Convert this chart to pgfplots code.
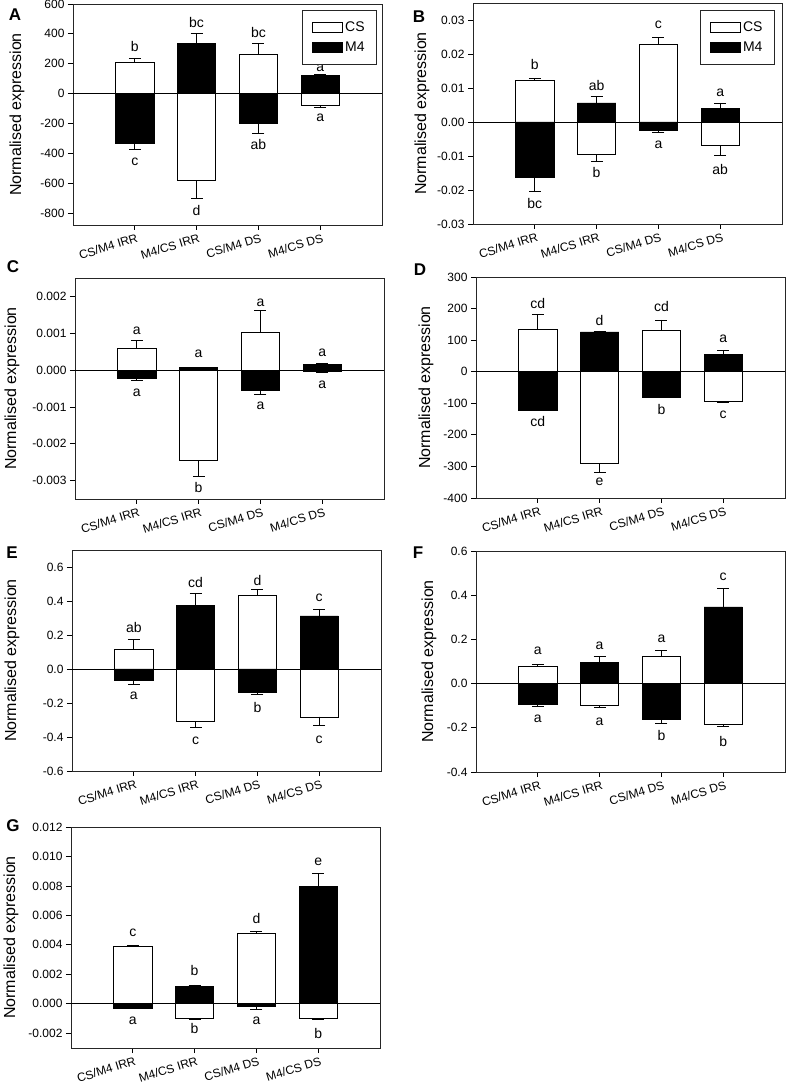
\documentclass[border=0pt]{standalone}
\usepackage{fontspec}
\setmainfont{Liberation Sans}
\usepackage{pgfplots}
\pgfplotsset{compat=1.18}
\tikzset{lt/.style={font=\fontsize{14}{16}\selectfont, inner sep=0pt}}
\pgfplotsset{
  panel/.style={
    width=309pt, height=221pt, scale only axis, anchor=south west,
    xmin=0, xmax=5, xtick={1,2,3,4},
    xticklabels={CS/M4 IRR, M4/CS IRR, CS/M4 DS, M4/CS DS},
    xticklabel style={yshift=-2pt, xshift=2pt, rotate=17, anchor=north east, font=\fontsize{12}{14}\selectfont, inner sep=1pt},
    yticklabel style={font=\fontsize{12}{14}\selectfont},
    /pgf/number format/assume math mode=true,
    /pgf/number format/fixed, /pgf/number format/fixed zerofill,
    scaled y ticks=false,
    tick align=outside, xtick pos=left, ytick pos=left,
    major tick length=5pt,
    tick style={black, line width=0.8pt},
    axis line style={black!85, line width=0.8pt},
    ylabel={Normalised expression},
    every axis y label/.append style={font=\fontsize{16}{18}\selectfont, anchor=center},
    legend image code/.code={\draw[#1, line width=0.8pt] (0pt,-5pt) rectangle (30pt,5pt);},
  },
  leg/.style={legend style={at={#1}, anchor=north east, draw=black!85, line width=0.8pt,
    font=\fontsize{14}{16}\selectfont, inner xsep=10pt, inner ysep=9.5pt, row sep=5pt,
    legend cell align=left}},
  barbase/.style={ybar, bar shift=0pt, bar width=0.62, draw=black, line width=0.8pt,
    error bars/y dir=both, error bars/y explicit,
    error bars/error bar style={black, line width=0.8pt},
    error bars/error mark options={rotate=90, black, mark size=6pt, line width=0.8pt}},
  cs/.style={barbase, fill=white},
  m4/.style={barbase, fill=black},
}
\begin{document}
\begin{tikzpicture}
\useasboundingbox (0,0) rectangle (788pt,1085pt);
% ---------------- A
\begin{axis}[panel, leg={(0.984,0.973)}, at={(73pt,860pt)}, ymin=-880, ymax=600,
  ytick={-800,-600,-400,-200,0,200,400,600}, /pgf/number format/precision=0,
  every axis y label/.append style={at={(axis description cs:-0.181,0.5)}}]
\addplot[cs] table[x=x,y=y,y error plus=ep,y error minus=em] {
x y ep em
1 208 29 0
2 -583 0 120
3 260 77 0
4 -81 0 9
};
\addplot[m4] table[x=x,y=y,y error plus=ep,y error minus=em] {
x y ep em
1 -334 0 37
2 337 68 0
3 -201 0 63
4 122 7 0
};
\legend{CS, M4}
\draw[black, line width=0.8pt] (axis cs:0,0) -- (axis cs:5,0);
\node[lt] at (axis cs:1,316) {b};
\node[lt] at (axis cs:1,-459) {c};
\node[lt] at (axis cs:2,475) {bc};
\node[lt] at (axis cs:2,-784) {d};
\node[lt] at (axis cs:3,411) {bc};
\node[lt] at (axis cs:3,-343) {ab};
\node[lt] at (axis cs:4,170) {a};
\node[lt] at (axis cs:4,-165) {a};
\end{axis}
% ---------------- B
\begin{axis}[panel, leg={(0.977,0.968)}, at={(473pt,861pt)}, ymin=-0.03, ymax=0.035,
  ytick={-0.03,-0.02,-0.01,0,0.01,0.02,0.03}, /pgf/number format/precision=2,
  every axis y label/.append style={at={(axis description cs:-0.165,0.5)}}]
\addplot[cs] table[x=x,y=y,y error plus=ep,y error minus=em] {
x y ep em
1 0.0121 0.0006 0
2 -0.0096 0 0.0020
3 0.0227 0.0022 0
4 -0.0070 0 0.0029
};
\addplot[m4] table[x=x,y=y,y error plus=ep,y error minus=em] {
x y ep em
1 -0.0162 0 0.0043
2 0.0056 0.0018 0
3 -0.0024 0 0.0008
4 0.0039 0.0017 0
};
\legend{CS, M4}
\draw[black, line width=0.8pt] (axis cs:0,0) -- (axis cs:5,0);
\node[lt] at (axis cs:1,0.0169) {b};
\node[lt] at (axis cs:1,-0.0240) {bc};
\node[lt] at (axis cs:2,0.0107) {ab};
\node[lt] at (axis cs:2,-0.0150) {b};
\node[lt] at (axis cs:3,0.0286) {c};
\node[lt] at (axis cs:3,-0.0067) {a};
\node[lt] at (axis cs:4,0.0087) {a};
\node[lt] at (axis cs:4,-0.0140) {ab};
\end{axis}
% ---------------- C
\begin{axis}[panel, at={(75pt,586pt)}, ymin=-0.0035, ymax=0.0025,
  ytick={-0.003,-0.002,-0.001,0,0.001,0.002}, /pgf/number format/precision=3,
  every axis y label/.append style={at={(axis description cs:-0.204,0.5)}}]
\addplot[cs] table[x=x,y=y,y error plus=ep,y error minus=em] {
x y ep em
1 0.00060 0.00020 0
2 -0.00245 0 0.00044
3 0.00102 0.00061 0
4 -0.00003 0 0.00002
};
\addplot[m4] table[x=x,y=y,y error plus=ep,y error minus=em] {
x y ep em
1 -0.000235 0 0.00004
2 0.00006 0 0
3 -0.00056 0 0.00009
4 0.000145 0.00004 0
};
\draw[black, line width=0.8pt] (axis cs:0,0) -- (axis cs:5,0);
\node[lt] at (axis cs:1,0.00107) {a};
\node[lt] at (axis cs:1,-0.00061) {a};
\node[lt] at (axis cs:2,0.00043) {a};
\node[lt] at (axis cs:2,-0.00320) {b};
\node[lt] at (axis cs:3,0.00183) {a};
\node[lt] at (axis cs:3,-0.00098) {a};
\node[lt] at (axis cs:4,0.00048) {a};
\node[lt] at (axis cs:4,-0.00040) {a};
\end{axis}
% ---------------- D
\begin{axis}[panel, at={(476pt,587pt)}, ymin=-400, ymax=300,
  ytick={-400,-300,-200,-100,0,100,200,300}, /pgf/number format/precision=0,
  every axis y label/.append style={at={(axis description cs:-0.162,0.5)}}]
\addplot[cs] table[x=x,y=y,y error plus=ep,y error minus=em] {
x y ep em
1 135 47 0
2 -292 0 26
3 132 32 0
4 -95 0 3
};
\addplot[m4] table[x=x,y=y,y error plus=ep,y error minus=em] {
x y ep em
1 -121 0 0
2 126 3 0
3 -82 0 0
4 56 12 0
};
\draw[black, line width=0.8pt] (axis cs:0,0) -- (axis cs:5,0);
\node[lt] at (axis cs:1,216) {cd};
\node[lt] at (axis cs:1,-159) {cd};
\node[lt] at (axis cs:2,163) {d};
\node[lt] at (axis cs:2,-349) {e};
\node[lt] at (axis cs:3,207) {cd};
\node[lt] at (axis cs:3,-121) {b};
\node[lt] at (axis cs:4,105) {a};
\node[lt] at (axis cs:4,-137) {c};
\end{axis}
% ---------------- E
\begin{axis}[panel, at={(72pt,314pt)}, ymin=-0.6, ymax=0.7,
  ytick={-0.6,-0.4,-0.2,0,0.2,0.4,0.6}, /pgf/number format/precision=1,
  every axis y label/.append style={at={(axis description cs:-0.194,0.5)}}]
\addplot[cs] table[x=x,y=y,y error plus=ep,y error minus=em] {
x y ep em
1 0.116 0.057 0
2 -0.310 0 0.035
3 0.433 0.034 0
4 -0.282 0 0.051
};
\addplot[m4] table[x=x,y=y,y error plus=ep,y error minus=em] {
x y ep em
1 -0.069 0 0.021
2 0.375 0.068 0
3 -0.137 0 0.014
4 0.312 0.041 0
};
\draw[black, line width=0.8pt] (axis cs:0,0) -- (axis cs:5,0);
\node[lt] at (axis cs:1,0.243) {ab};
\node[lt] at (axis cs:1,-0.155) {a};
\node[lt] at (axis cs:2,0.508) {cd};
\node[lt] at (axis cs:2,-0.424) {c};
\node[lt] at (axis cs:3,0.522) {d};
\node[lt] at (axis cs:3,-0.229) {b};
\node[lt] at (axis cs:4,0.418) {c};
\node[lt] at (axis cs:4,-0.414) {c};
\end{axis}
% ---------------- F
\begin{axis}[panel, at={(476pt,313pt)}, ymin=-0.4, ymax=0.6,
  ytick={-0.4,-0.2,0,0.2,0.4,0.6}, /pgf/number format/precision=1,
  every axis y label/.append style={at={(axis description cs:-0.152,0.5)}}]
\addplot[cs] table[x=x,y=y,y error plus=ep,y error minus=em] {
x y ep em
1 0.080 0.007 0
2 -0.100 0 0.007
3 0.121 0.027 0
4 -0.185 0 0.009
};
\addplot[m4] table[x=x,y=y,y error plus=ep,y error minus=em] {
x y ep em
1 -0.093 0 0.012
2 0.095 0.026 0
3 -0.161 0 0.021
4 0.347 0.083 0
};
\draw[black, line width=0.8pt] (axis cs:0,0) -- (axis cs:5,0);
\node[lt] at (axis cs:1,0.148) {a};
\node[lt] at (axis cs:1,-0.158) {a};
\node[lt] at (axis cs:2,0.170) {a};
\node[lt] at (axis cs:2,-0.173) {a};
\node[lt] at (axis cs:3,0.203) {a};
\node[lt] at (axis cs:3,-0.234) {b};
\node[lt] at (axis cs:4,0.482) {c};
\node[lt] at (axis cs:4,-0.264) {b};
\end{axis}
% ---------------- G
\begin{axis}[panel, at={(71pt,37pt)}, ymin=-0.003, ymax=0.012,
  ytick={-0.002,0,0.002,0.004,0.006,0.008,0.010,0.012}, /pgf/number format/precision=3,
  every axis y label/.append style={at={(axis description cs:-0.194,0.5)}}]
\addplot[cs] table[x=x,y=y,y error plus=ep,y error minus=em] {
x y ep em
1 0.00392 0.00004 0
2 -0.00101 0 0.00002
3 0.00477 0.00016 0
4 -0.00101 0 0.00007
};
\addplot[m4] table[x=x,y=y,y error plus=ep,y error minus=em] {
x y ep em
1 -0.00032 0 0
2 0.00119 0.00009 0
3 -0.00020 0 0.00018
4 0.00795 0.00090 0
};
\draw[black, line width=0.8pt] (axis cs:0,0) -- (axis cs:5,0);
\node[lt] at (axis cs:1,0.00484) {c};
\node[lt] at (axis cs:1,-0.00113) {a};
\node[lt] at (axis cs:2,0.00225) {b};
\node[lt] at (axis cs:2,-0.00169) {b};
\node[lt] at (axis cs:3,0.00581) {d};
\node[lt] at (axis cs:3,-0.00113) {a};
\node[lt] at (axis cs:4,0.00964) {e};
\node[lt] at (axis cs:4,-0.00203) {b};
\end{axis}
% panel letters
\begin{scope}[every node/.style={font=\bfseries\fontsize{17}{19}\selectfont, inner sep=0pt}]
\node at (15pt,1070pt) {A};
\node at (419pt,1068pt) {B};
\node at (13pt,818pt) {C};
\node at (420pt,815pt) {D};
\node at (12pt,532pt) {E};
\node at (418pt,532pt) {F};
\node at (13pt,259pt) {G};
\end{scope}
\end{tikzpicture}
\end{document}
